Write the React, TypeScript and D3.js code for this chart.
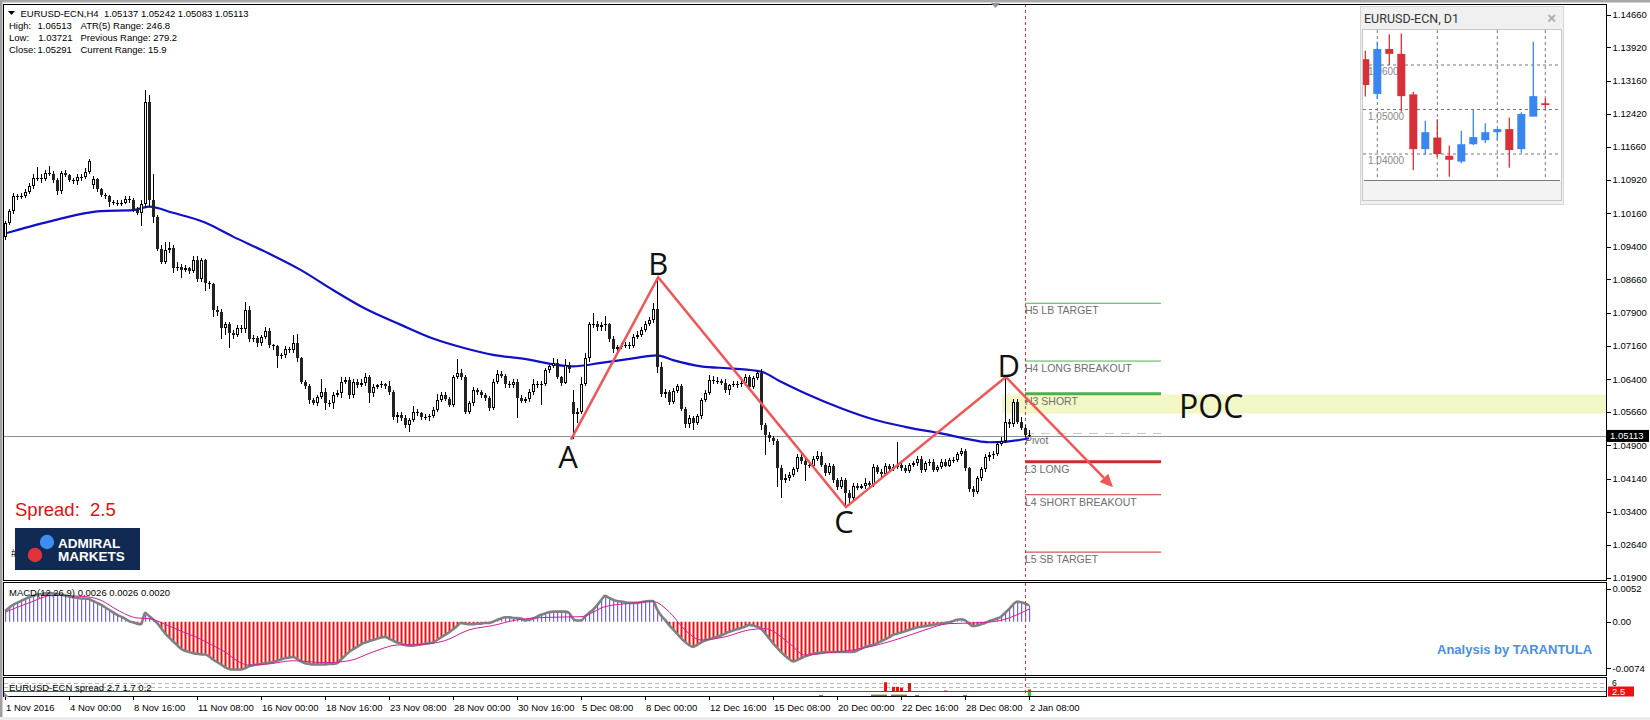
import React from "react";
import * as d3 from "d3";

// ---------- H4 candles (price x 1e4), bar 0 = 1 Nov 2016 08:00 ----------
const OPENS = [
10963,10993,11020,11054,11052,11056,11065,11078,11095,11097,
11094,11108,11106,11091,11066,11108,11103,11091,11088,11099,
11098,11110,11080,11093,11070,11057,11054,11042,11040,11038,
11040,11048,11046,11023,11016,11038,11269,11046,11008,10936,
10906,10933,10937,10891,10895,10888,10893,10884,10910,10866,
10910,10857,10855,10797,10793,10755,10766,10744,10740,10755,
10754,10797,10732,10733,10721,10736,10748,10717,10714,10692,
10695,10708,10705,10723,10687,10634,10625,10593,10586,10600,
10612,10585,10586,10604,10608,10634,10638,10604,10634,10627,
10632,10646,10608,10622,10626,10628,10624,10612,10555,10559,
10552,10536,10548,10566,10563,10554,10555,10557,10570,10593,
10604,10596,10581,10646,10653,10645,10566,10585,10615,10610,
10603,10598,10574,10634,10651,10648,10630,10626,10633,10598,
10590,10594,10611,10629,10627,10630,10660,10669,10676,10645,
10632,10672,10589,10562,10566,10630,10687,10766,10764,10758,
10762,10764,10732,10709,10713,10716,10718,10716,10736,10741,
10751,10765,10773,10800,10668,10607,10610,10589,10614,10624,
10573,10539,10552,10540,10556,10592,10609,10639,10635,10636,
10632,10615,10626,10630,10628,10632,10644,10622,10642,10653,
10536,10513,10506,10500,10438,10411,10416,10423,10436,10463,
10455,10446,10444,10460,10466,10445,10428,10443,10411,10395,
10411,10383,10370,10398,10394,10397,10404,10401,10440,10430,
10424,10443,10436,10441,10445,10438,10432,10445,10449,10458,
10434,10449,10452,10434,10441,10453,10444,10456,10457,10470,
10478,10438,10392,10385,10415,10436,10463,10468,10470,10494,
10500,10544,10538,10589,10544,10530,10514
];
const HIGHS = [
10998,11025,11062,11060,11062,11070,11085,11104,11120,11105,
11115,11122,11112,11095,11112,11114,11106,11095,11104,11106,
11118,11140,11100,11096,11074,11062,11058,11046,11046,11045,
11056,11054,11050,11030,11045,11295,11285,11104,11012,10945,
10950,10950,10945,10905,10900,10898,10895,10920,10918,10915,
10912,10862,10858,10805,10798,10770,10770,10752,10762,10762,
10815,10805,10740,10738,10740,10758,10755,10720,10718,10700,
10715,10712,10740,10742,10690,10638,10628,10598,10605,10640,
10620,10592,10610,10615,10645,10645,10645,10640,10640,10640,
10655,10650,10628,10630,10635,10632,10635,10615,10565,10565,
10558,10552,10580,10572,10566,10560,10562,10578,10606,10610,
10610,10600,10650,10685,10662,10650,10590,10622,10620,10616,
10608,10602,10640,10660,10658,10652,10636,10640,10640,10605,
10600,10618,10640,10636,10636,10665,10672,10689,10685,10648,
10685,10680,10615,10575,10645,10700,10770,10790,10772,10770,
10782,10768,10738,10718,10722,10725,10724,10742,10750,10758,
10772,10780,10812,10870,10680,10618,10615,10620,10630,10628,
10578,10558,10556,10560,10598,10615,10650,10648,10645,10640,
10640,10630,10636,10636,10638,10652,10650,10648,10660,10662,
10540,10520,10512,10505,10445,10425,10430,10442,10470,10470,
10460,10452,10466,10478,10475,10450,10450,10448,10415,10418,
10415,10388,10405,10405,10402,10415,10410,10448,10445,10436,
10450,10448,10448,10498,10450,10445,10450,10455,10465,10465,
10455,10460,10458,10446,10458,10458,10462,10463,10476,10484,
10482,10442,10398,10420,10442,10470,10475,10478,10500,10508,
10645,10550,10594,10596,10555,10535,10524
];
const LOWS = [
10955,10990,11015,11046,11048,11050,11060,11072,11088,11085,
11090,11100,11085,11058,11060,11098,11086,11082,11080,11090,
11094,11106,11070,11065,11052,11048,11030,11034,11033,11032,
11036,11040,11018,11012,10986,11030,11030,10995,10930,10900,
10900,10925,10880,10885,10870,10882,10878,10880,10860,10860,
10840,10845,10780,10783,10730,10740,10710,10730,10735,10745,
10745,10725,10725,10712,10715,10730,10710,10705,10665,10685,
10688,10700,10700,10680,10628,10618,10583,10582,10580,10596,
10570,10578,10572,10600,10598,10628,10595,10598,10620,10622,
10625,10585,10600,10618,10620,10618,10605,10548,10540,10545,
10530,10520,10542,10556,10548,10548,10546,10552,10565,10588,
10590,10576,10576,10640,10638,10560,10560,10580,10604,10598,
10590,10568,10570,10630,10642,10620,10620,10620,10551,10585,
10586,10588,10605,10620,10581,10625,10655,10665,10640,10625,
10628,10655,10505,10540,10560,10625,10680,10755,10750,10748,
10750,10725,10700,10700,10708,10710,10708,10710,10732,10736,
10746,10760,10768,10655,10600,10598,10582,10584,10608,10568,
10530,10530,10525,10535,10550,10588,10604,10630,10628,10626,
10608,10605,10622,10620,10622,10628,10618,10618,10638,10525,
10468,10498,10490,10396,10370,10404,10410,10418,10430,10448,
10410,10438,10440,10455,10440,10420,10422,10405,10388,10390,
10352,10360,10362,10388,10390,10392,10395,10395,10425,10418,
10420,10432,10432,10436,10432,10428,10428,10440,10444,10428,
10430,10444,10430,10430,10436,10440,10440,10450,10452,10466,
10432,10385,10372,10380,10410,10430,10455,10460,10465,10488,
10495,10530,10532,10538,10525,10510,10508
];
const CLOSES = [
10993,11020,11054,11052,11056,11065,11078,11095,11097,11094,
11108,11106,11091,11066,11108,11103,11091,11088,11099,11098,
11110,11135,11093,11070,11057,11054,11042,11040,11038,11040,
11048,11046,11023,11016,11038,11269,11046,11008,10936,10906,
10933,10937,10891,10895,10888,10893,10884,10910,10866,10910,
10857,10855,10797,10793,10755,10766,10744,10740,10755,10754,
10797,10732,10733,10721,10736,10748,10717,10714,10692,10695,
10708,10705,10723,10687,10634,10625,10593,10586,10600,10612,
10585,10586,10604,10608,10634,10638,10604,10634,10627,10632,
10646,10608,10622,10626,10628,10624,10612,10555,10559,10552,
10536,10548,10566,10563,10554,10555,10557,10570,10593,10604,
10596,10581,10646,10653,10645,10566,10585,10615,10610,10603,
10598,10574,10634,10651,10648,10630,10626,10633,10598,10590,
10594,10611,10629,10627,10630,10660,10669,10676,10645,10632,
10672,10663,10562,10566,10630,10687,10766,10764,10758,10762,
10764,10732,10709,10713,10716,10718,10716,10736,10741,10751,
10765,10773,10800,10668,10607,10610,10589,10614,10624,10573,
10539,10552,10540,10556,10592,10609,10639,10635,10636,10632,
10615,10626,10630,10628,10632,10644,10622,10642,10653,10536,
10513,10506,10500,10438,10411,10416,10423,10436,10463,10455,
10446,10444,10460,10466,10445,10428,10443,10411,10395,10411,
10383,10370,10398,10394,10397,10404,10401,10440,10430,10424,
10443,10436,10441,10445,10438,10432,10445,10449,10458,10434,
10449,10452,10434,10441,10453,10444,10456,10457,10470,10478,
10438,10392,10385,10415,10436,10463,10468,10470,10494,10500,
10544,10538,10589,10544,10530,10514,10511
];

// moving average read at points [bar, price x 1e4]
const MA_POINTS: [number, number][] = [
[0,10970],[11,10997],[24,11021],[32,11023],[36,11031],[42,11017],[50,10995],[57,10963],
[65,10929],[74,10887],[82,10842],[90,10800],[99,10763],[107,10732],[115,10710],[122,10695],
[129,10687],[142,10669],[149,10677],[157,10687],[163,10694],[167,10683],[174,10669],[182,10664],
[189,10657],[194,10634],[200,10608],[209,10574],[217,10549],[225,10532],[234,10517],[242,10502],
[246,10497],[250,10498],[256,10506]
];

// MACD main per bar (x 1e-4)
const MACD_MAIN = [
17,22,27,30,33,36,39,41,43,44,
45,45,45,44,43,42,40,39,38,37,
37,36,33,30,27,23,19,15,11,8,
5,1,-1,-3,-4,14,9,4,-2,-10,
-18,-25,-31,-37,-43,-46,-48,-50,-51,-52,
-52,-55,-60,-64,-68,-72,-75,-76,-76,-76,
-74,-71,-69,-68,-67,-66,-65,-64,-62,-60,
-58,-57,-56,-59,-63,-66,-67,-68,-68,-68,
-68,-67,-67,-66,-60,-54,-48,-44,-40,-36,
-33,-31,-29,-27,-25,-24,-27,-30,-33,-35,
-37,-38,-38,-37,-36,-35,-34,-33,-29,-25,
-21,-17,-12,-7,-2,-3,-4,-4,-3,-3,
-2,-2,0,3,5,7,7,6,6,5,
2,3,5,8,11,13,15,16,16,16,
16,14,5,2,2,8,14,19,26,34,
41,38,35,33,32,31,30,30,30,31,
32,33,33,20,10,3,-5,-12,-19,-26,
-32,-37,-40,-37,-33,-30,-28,-26,-24,-22,
-19,-16,-14,-12,-10,-8,-5,-6,-8,-11,
-18,-26,-34,-41,-48,-54,-59,-63,-61,-58,
-55,-53,-51,-50,-49,-48,-48,-48,-48,-48,
-48,-48,-48,-46,-43,-40,-38,-37,-34,-31,
-28,-25,-21,-19,-17,-15,-13,-11,-9,-8,
-7,-6,-5,-4,-3,-2,-1,1,3,4,
2,-3,-7,-6,-4,-2,1,3,5,8,
14,20,27,32,31,29,26
];
// MACD signal read at points [bar, value x 1e-4]
const MACD_SIGNAL: [number, number][] = [
[0,15],[6,30],[12,42],[20,40],[24,34],[28,19],[33,6],[36,5],[40,-4],[44,-15],[48,-25],
[52,-38],[55,-48],[58,-62],[61,-69],[66,-67],[72,-62],[80,-65],[86,-62],[92,-48],[98,-37],
[104,-36],[110,-30],[116,-13],[122,-6],[128,3],[136,7],[144,8],[150,24],[156,29],[162,32],
[166,16],[170,-13],[174,-29],[180,-24],[186,-13],[190,-11],[196,-34],[200,-53],[206,-49],
[212,-45],[218,-37],[224,-26],[230,-13],[236,-3],[242,-2],[248,1],[256,20]
];

// spread sub-window
const SPREAD_RED: [number, number][] = [[220,6.3],[222,4.4],[223,4.4],[224,4.0],[226,6.0],[235,2.9],[256,3.3]];
const SPREAD_OLIVE: [number, number][] = [[204,1.0],[217,1.2],[218,1.2],[219,1.2],[220,1.2],[222,1.2],[223,1.2],[224,1.2],[225,1.2],[228,1.0],[240,1.0]];
const SPREAD_GREEN: [number, number][] = [[256,2.4]];
const SPREAD_DASHED = [5.9, 4.2];
const SPREAD_CURRENT = 2.5;

// axes
const PRICE_TICKS = ["1.14660","1.13920","1.13160","1.12420","1.11660","1.10920","1.10160","1.09400","1.08660","1.07900","1.07160","1.06400","1.05660","1.04900","1.04140","1.03400","1.02640","1.01900"];
const MACD_TICKS = ["0.0052","0.00","-0.0074"];
const TIME_LABELS = ["1 Nov 2016","4 Nov 00:00","8 Nov 16:00","11 Nov 08:00","16 Nov 00:00","18 Nov 16:00","23 Nov 08:00","28 Nov 00:00","30 Nov 16:00","5 Dec 08:00","8 Dec 00:00","12 Dec 16:00","15 Dec 08:00","20 Dec 00:00","22 Dec 16:00","28 Dec 08:00","2 Jan 08:00"];
const TIME_STEP = 16;
const CURRENT_PRICE = 1.05113;

// pivot levels
const LEVEL_NAMES = ["H5 LB TARGET","H4 LONG BREAKOUT","H3 SHORT","Pivot","L3 LONG","L4 SHORT BREAKOUT","L5 SB TARGET"];
const LEVEL_PRICES = [1.0812,1.0681,1.0607,1.0517,1.0453,1.0378,1.0248];
const LEVEL_BARS = [255, 289];
const POC_RANGE = [1.0562, 1.0605];
const POC_START_BAR = 249.3;

// ABCD pattern
const PATTERN_LABELS = ["A","B","C","D"];
const PATTERN_BARS = [141.5, 163.3, 210.25, 250.2, 277];
const PATTERN_PRICES = [1.0503, 1.0871, 1.0350, 1.0645, 1.0395];
const VLINE_BAR = 255;

// D1 mini chart
const D1_OPEN = [1.0613,1.0535,1.0636,1.0625,1.0534,1.0411,1.0437,1.0396,1.0383,1.0422,1.0431,1.0449,1.0456,1.0411,1.0484,1.0514];
const D1_HIGH = [1.0632,1.0652,1.0669,1.0671,1.0540,1.0475,1.0478,1.0419,1.0452,1.0500,1.0469,1.0456,1.0482,1.0494,1.0652,1.0525];
const D1_LOW = [1.0529,1.0524,1.0600,1.0495,1.0364,1.0398,1.0393,1.0349,1.0379,1.0420,1.0425,1.0431,1.0369,1.0403,1.0484,1.0503];
const D1_CLOSE = [1.0555,1.0636,1.0625,1.0530,1.0411,1.0449,1.0400,1.0387,1.0422,1.0438,1.0449,1.0456,1.0409,1.0490,1.0530,1.0510];
const D1_GRID = ["1.06000","1.05000","1.04000"];
const D1_VGRID = [1, 6, 11, 15];

const F = "'Liberation Sans', Arial, sans-serif";
const PRE: React.CSSProperties = { whiteSpace: "pre" };

export default function App() {
  const x = d3.scaleLinear().domain([0, 256]).range([5, 1029]);
  const y = d3.scaleLinear().domain([1.019, 1.1466]).range([577.7, 14.7]);
  const yM = d3.scaleLinear().domain([-0.0074, 0.0052]).range([668.3, 589]);
  const yS = d3.scaleLinear().domain([0, 6]).range([697.5, 683]);
  const xm = d3.scaleLinear().domain([0, 15]).range([1365.3, 1545.3]);
  const ym = d3.scaleLinear().domain([1.04, 1.06]).range([154, 65]);

  const maPath = d3.line<[number, number]>()
    .x((d) => x(d[0])).y((d) => y(d[1] / 1e4)).curve(d3.curveMonotoneX)(MA_POINTS) || "";
  const macdPath = d3.line<number>()
    .x((_, i) => x(i)).y((d) => yM(d / 1e4)).curve(d3.curveMonotoneX)(MACD_MAIN) || "";
  const sigPath = d3.line<[number, number]>()
    .x((d) => x(d[0])).y((d) => yM(d[1] / 1e4)).curve(d3.curveMonotoneX)(MACD_SIGNAL) || "";

  const pts = PATTERN_BARS.map((b, i) => [x(b), y(PATTERN_PRICES[i])] as [number, number]);
  const patPath = d3.line()(pts.slice(0, 4)) || "";
  const [dx, dy] = pts[3];
  const [ex, ey] = pts[4];
  const ang = Math.atan2(ey - dy, ex - dx);
  const L = 13, Wd = 6;
  const bx = ex - L * Math.cos(ang), by = ey - L * Math.sin(ang);
  const arrowHead = `M${ex},${ey} L${bx - Wd * Math.sin(ang)},${by + Wd * Math.cos(ang)} L${bx + Wd * Math.sin(ang)},${by - Wd * Math.cos(ang)} Z`;
  const letterOffsets = [[-3, 28], [0, -2], [-2, 26], [3, 0]];

  const levelColor = (i: number) => (i < 3 ? "#4caf50" : i === 3 ? "#c8c8c8" : "#cc2c2c");
  const levelWidth = (i: number) => (i === 2 || i === 4 ? 3 : 1);

  const curY = y(CURRENT_PRICE);

  return (
    <div style={{ position: "absolute", left: 0, top: 0 }}>
      <svg width={1650} height={720} style={{ display: "block", background: "#ffffff" }} fontFamily={F}>
        <defs>
          <clipPath id="mainClip"><rect x={4} y={5} width={1602} height={575} /></clipPath>
          <clipPath id="macdClip"><rect x={4} y={583} width={1602} height={92} /></clipPath>
          <clipPath id="miniClip"><rect x={1363} y={30} width={198} height={150} /></clipPath>
        </defs>
        <rect x={0} y={0} width={1650} height={720} fill="#ffffff" />
        <rect x={0} y={0} width={1650} height={2.5} fill="#a8a8a8" />
        <rect x={0} y={0} width={2.5} height={720} fill="#a0a0a0" />
        <rect x={0} y={717} width={1650} height={3} fill="#ececec" />

        {/* ---------- main chart ---------- */}
        <g clipPath="url(#mainClip)">
          <rect x={x(POC_START_BAR)} y={y(POC_RANGE[1])} width={1607 - x(POC_START_BAR)} height={y(POC_RANGE[0]) - y(POC_RANGE[1])} fill="#f3f7c6" />
          <line x1={3} x2={1607} y1={Math.round(curY) + 0.5} y2={Math.round(curY) + 0.5} stroke="#8894a0" strokeWidth={1} />
          {LEVEL_PRICES.map((lp, i) => (
            <g key={"lv" + i}>
              <line x1={x(LEVEL_BARS[0])} x2={x(LEVEL_BARS[1])} y1={y(lp)} y2={y(lp)} stroke={levelColor(i)} strokeWidth={levelWidth(i)} strokeDasharray={i === 3 ? "9,7" : undefined} />
              <text x={x(LEVEL_BARS[0])} y={y(lp) + 11} fontSize={10.5} fill="#6e6e6e">{LEVEL_NAMES[i]}</text>
            </g>
          ))}
          <line x1={x(VLINE_BAR) + 0.5} x2={x(VLINE_BAR) + 0.5} y1={4} y2={580} stroke="#d03a3a" strokeDasharray="3,3" strokeWidth={1} />
          <path d={maPath} fill="none" stroke="#1010c8" strokeWidth={2.2} />
          {CLOSES.map((c, i) => {
            const o = OPENS[i] / 1e4, cl = c / 1e4, h = HIGHS[i] / 1e4, l = LOWS[i] / 1e4;
            const cx = Math.round(x(i));
            const top = Math.round(y(Math.max(o, cl)));
            const bot = Math.round(y(Math.min(o, cl)));
            const bull = cl >= o;
            return (
              <g key={"c" + i} shapeRendering="crispEdges">
                <line x1={cx + 0.5} x2={cx + 0.5} y1={y(h)} y2={y(l)} stroke="#000" strokeWidth={1} />
                {bot - top < 2 ? (
                  <rect x={cx - 1} y={top} width={3} height={1} fill="#000" />
                ) : bull ? (
                  <rect x={cx - 0.5} y={top + 0.5} width={2} height={bot - top - 1} fill="#fff" stroke="#000" strokeWidth={1} />
                ) : (
                  <rect x={cx - 1} y={top} width={3} height={bot - top} fill="#222" />
                )}
              </g>
            );
          })}
          <path d={patPath} fill="none" stroke="#f05656" strokeWidth={2.5} strokeLinejoin="miter" />
          <line x1={dx} y1={dy} x2={bx} y2={by} stroke="#f05656" strokeWidth={2.5} />
          <path d={arrowHead} fill="#f05656" />
          {PATTERN_LABELS.map((t, i) => (
            <text key={"pl" + i} x={pts[i][0] + letterOffsets[i][0]} y={pts[i][1] + letterOffsets[i][1]} textAnchor="middle" fontSize={31} fontFamily="'Open Sans', 'DejaVu Sans', sans-serif" fill="#111">{t}</text>
          ))}
          <text x={1179} y={418} fontSize={32} fontFamily="'Open Sans', 'DejaVu Sans', sans-serif" fill="#111">POC</text>
        </g>
        <rect x={3.5} y={4.5} width={1603} height={576} fill="none" stroke="#000" strokeWidth={1} />
        <path d="M991,3 L1000,3 L995.5,8 Z" fill="#9090a0" />

        {/* header */}
        <path d="M8,11 L15,11 L11.5,15 Z" fill="#000" />
        <text x={20.5} y={17.3} fontSize={9.5} fill="#000" style={PRE}>{"EURUSD-ECN,H4  1.05137 1.05242 1.05083 1.05113"}</text>
        <text x={9} y={29} fontSize={9.5} fill="#000">High:</text>
        <text x={37.5} y={29} fontSize={9.5} fill="#000">1.06513</text>
        <text x={9} y={41} fontSize={9.5} fill="#000">Low:</text>
        <text x={38.3} y={41} fontSize={9.5} fill="#000">1.03721</text>
        <text x={9} y={53} fontSize={9.5} fill="#000">Close:</text>
        <text x={37.5} y={53} fontSize={9.5} fill="#000">1.05291</text>
        <text x={80.5} y={29} fontSize={9.5} fill="#000">ATR(5) Range: 246.8</text>
        <text x={80.5} y={41} fontSize={9.5} fill="#000">Previous Range: 279.2</text>
        <text x={80.5} y={53} fontSize={9.5} fill="#000">Current Range: 15.9</text>

        {/* spread text and logo */}
        <text x={15} y={516} fontSize={18.5} fill="#e01010" style={PRE}>{"Spread:  2.5"}</text>
        <text x={11} y={557} fontSize={10} fill="#000">#</text>
        <rect x={15} y={528} width={125} height={42} fill="#112a54" />
        <circle cx={47} cy={542} r={7.2} fill="#3d8ef0" />
        <circle cx={35} cy={555} r={7.2} fill="#e2323a" />
        <text x={58} y={547.5} fontSize={13.5} fontWeight="bold" fill="#fff">ADMIRAL</text>
        <text x={58} y={560.5} fontSize={13.5} fontWeight="bold" fill="#fff">MARKETS</text>

        {/* price axis */}
        {PRICE_TICKS.map((t, i) => (
          <g key={"pt" + i}>
            <line x1={1607} x2={1611} y1={Math.round(y(+t)) + 0.5} y2={Math.round(y(+t)) + 0.5} stroke="#000" />
            <text x={1612.5} y={y(+t) + 3.4} fontSize={9.5} fill="#000">{t}</text>
          </g>
        ))}
        <rect x={1607} y={curY - 6} width={42} height={12} fill="#000" />
        <text x={1610} y={curY + 3.5} fontSize={9.5} fill="#fff">{CURRENT_PRICE.toFixed(5)}</text>

        {/* ---------- MACD ---------- */}
        <g clipPath="url(#macdClip)">
          {MACD_MAIN.map((v, i) => {
            const cx = Math.round(x(i));
            const y0 = yM(0), y1 = yM(v / 1e4);
            return (
              <rect key={"h" + i} x={v >= 0 ? cx : cx - 0.5} y={Math.min(y0, y1)} width={v >= 0 ? 1.2 : 2} height={Math.abs(y1 - y0)} fill={v >= 0 ? "#6f66d8" : "#ee1010"} />
            );
          })}
          <path d={macdPath} fill="none" stroke="#808080" strokeWidth={2.6} />
          <path d={sigPath} fill="none" stroke="#d0209a" strokeWidth={1} />
          <line x1={x(VLINE_BAR) + 0.5} x2={x(VLINE_BAR) + 0.5} y1={583} y2={676} stroke="#d03a3a" strokeDasharray="3,3" />
        </g>
        <rect x={3.5} y={582.5} width={1603} height={93} fill="none" stroke="#000" strokeWidth={1} />
        <text x={9} y={595.5} fontSize={9.5} fill="#000">MACD(12,26,9) 0.0026 0.0026 0.0020</text>
        <text x={1437} y={653.5} fontSize={13} fontWeight="bold" fill="#4a8fe0">Analysis by TARANTULA</text>
        {MACD_TICKS.map((t, i) => (
          <g key={"mt" + i}>
            <line x1={1607} x2={1611} y1={Math.round(yM(+t)) + 0.5} y2={Math.round(yM(+t)) + 0.5} stroke="#000" />
            <text x={1612.5} y={yM(+t) + 3.4} fontSize={9.5} fill="#000">{t}</text>
          </g>
        ))}

        {/* ---------- spread window ---------- */}
        {SPREAD_DASHED.map((v, i) => (
          <line key={"sd" + i} x1={4} x2={1606} y1={Math.round(yS(v)) + 0.5} y2={Math.round(yS(v)) + 0.5} stroke="#b8b8b8" strokeDasharray="4,3" />
        ))}
        <line x1={4} x2={1606} y1={Math.round(yS(SPREAD_CURRENT)) + 0.5} y2={Math.round(yS(SPREAD_CURRENT)) + 0.5} stroke="#d02020" strokeWidth={1} />
        {SPREAD_OLIVE.map(([b, v], i) => (
          <rect key={"so" + i} x={Math.round(x(b)) - 2} y={yS(v)} width={4} height={yS(0) - yS(v) - 1} fill="#808000" />
        ))}
        {SPREAD_GREEN.map(([b, v], i) => (
          <rect key={"sg" + i} x={Math.round(x(b)) - 1} y={yS(v)} width={3} height={yS(0) - yS(v) - 1} fill="#22cc22" />
        ))}
        {SPREAD_RED.map(([b, v], i) => (
          <rect key={"sr" + i} x={Math.round(x(b)) - 1} y={yS(v)} width={3} height={yS(SPREAD_CURRENT) - yS(v)} fill="#ee1010" />
        ))}
        <line x1={x(VLINE_BAR) + 0.5} x2={x(VLINE_BAR) + 0.5} y1={678} y2={696} stroke="#d03a3a" strokeDasharray="3,3" />
        <rect x={3.5} y={677.5} width={1603} height={19} fill="none" stroke="#000" strokeWidth={1} />
        <path d="M4,692 L4,697 L9,697 Z" fill="#8090a0" />
        <text x={9} y={690.5} fontSize={9.5} fill="#000">EURUSD-ECN spread 2.7 1.7 0.2</text>
        <text x={1612} y={686} fontSize={8.5} fill="#000">6</text>
        <rect x={1608} y={686.5} width={26} height={10} fill="#ee1111" />
        <text x={1612} y={695} fontSize={9.5} fill="#fff">{SPREAD_CURRENT.toFixed(1)}</text>

        {/* time axis */}
        {TIME_LABELS.map((t, i) => (
          <g key={"tl" + i}>
            <line x1={Math.round(x(i * TIME_STEP)) + 0.5} x2={Math.round(x(i * TIME_STEP)) + 0.5} y1={697} y2={700} stroke="#000" />
            <text x={x(i * TIME_STEP) + 1} y={710.5} fontSize={9.5} fill="#000">{t}</text>
          </g>
        ))}

        {/* ---------- D1 mini chart ---------- */}
        <rect x={1360.5} y={6.5} width={203} height={198} fill="#f0f0f0" stroke="#d6d6d6" />
        <text x={1364} y={23} fontSize={12.5} fontFamily="Roboto, 'Liberation Sans', sans-serif" fill="#333">EURUSD-ECN, D1</text>
        <line x1={1548.5} y1={15} x2={1555} y2={21.5} stroke="#b0b0b0" strokeWidth={2} />
        <line x1={1555} y1={15} x2={1548.5} y2={21.5} stroke="#b0b0b0" strokeWidth={2} />
        <rect x={1362.5} y={29.5} width={199} height={171} fill="#ffffff" stroke="#c8c8c8" />
        <rect x={1363} y={181} width={198} height={19} fill="#f3f3f3" />
        <line x1={1364} x2={1560} y1={180.5} y2={180.5} stroke="#7a7a7a" strokeWidth={1.2} />
        <g clipPath="url(#miniClip)">
          {D1_GRID.map((g, i) => (
            <g key={"dg" + i}>
              <line x1={1363} x2={1561} y1={ym(+g)} y2={ym(+g)} stroke="#777" strokeDasharray="3,3" />
              <text x={1368} y={ym(+g) + 10} fontSize={10} fill="#8a8a8a">{g}</text>
            </g>
          ))}
          {D1_VGRID.map((k, i) => (
            <line key={"dv" + i} x1={xm(k)} x2={xm(k)} y1={30} y2={180} stroke="#777" strokeDasharray="3,3" />
          ))}
          {D1_CLOSE.map((c, i) => {
            const o = D1_OPEN[i];
            const col = c >= o ? "#3a86f0" : "#d83038";
            const top = ym(Math.max(o, c)), bot = ym(Math.min(o, c));
            return (
              <g key={"d" + i}>
                <line x1={xm(i)} x2={xm(i)} y1={ym(D1_HIGH[i])} y2={ym(D1_LOW[i])} stroke={col} strokeWidth={1.3} />
                <rect x={xm(i) - 4} y={top} width={8} height={Math.max(1.5, bot - top)} fill={col} />
              </g>
            );
          })}
        </g>
      </svg>
    </div>
  );
}
